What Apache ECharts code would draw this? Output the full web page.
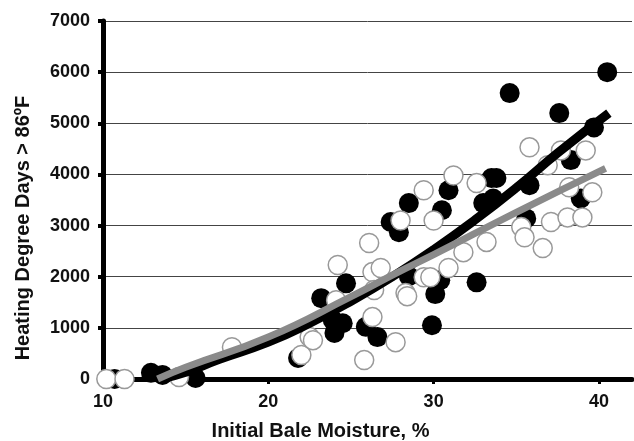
<!DOCTYPE html>
<html>
<head>
<meta charset="utf-8">
<script src="https://cdn.jsdelivr.net/npm/echarts@6/dist/echarts.min.js"></script>
<style>
  html, body { margin: 0; padding: 0; background: #fff; }
  #chart { width: 634px; height: 441px; }
</style>
</head>
<body>
<div id="chart"></div>
<script>
// measured points, [moisture %, heating degree days]
var filledPoints = [
  [10.7, 0], [12.9, 120], [13.6, 80], [15.6, 20], [21.8, 410],
  [23.2, 1580], [24.7, 1870], [23.9, 1150], [24.0, 900], [24.5, 1090],
  [25.9, 1020], [26.6, 820], [27.4, 3070], [27.9, 2870], [28.5, 3440],
  [28.5, 2010], [30.1, 1660], [29.9, 1050], [30.4, 1930], [30.5, 3300],
  [30.9, 3690], [32.6, 1890], [33.5, 3930], [33.8, 3930], [33.0, 3440],
  [33.6, 3530], [34.6, 5590], [35.8, 3790], [35.6, 3140], [37.6, 5200],
  [38.3, 4280], [38.9, 3530], [39.7, 4920], [40.5, 6000]
]
var openPoints = [
  [10.2, 0], [11.3, 0], [14.6, 40], [17.8, 620], [22.0, 470],
  [22.5, 820], [22.7, 760], [24.2, 2230], [24.1, 1540], [25.8, 370],
  [26.3, 1210], [27.7, 720], [26.1, 2660], [26.3, 2090], [26.8, 2170],
  [26.4, 1740], [28.0, 3100], [29.4, 3690], [28.3, 1680], [28.4, 1620],
  [29.4, 1990], [29.8, 1990], [30.0, 3100], [30.9, 2170], [31.2, 3980],
  [31.8, 2480], [32.6, 3830], [33.2, 2680], [35.3, 2970], [35.5, 2770],
  [35.8, 4530], [36.6, 2560], [36.9, 4180], [37.1, 3070], [37.7, 4470],
  [38.1, 3160], [38.2, 3750], [39.0, 3160], [39.2, 4470], [39.6, 3650]
]
// trend curves
var filledTrend = [
  [13.5, 0], [15, 130], [17, 380], [20, 720], [22.5, 1090], [25, 1520],
  [27.5, 2000], [30, 2530], [32.5, 3110], [35, 3740], [37.5, 4420], [40.6, 5200]
]
var openTrend = [
  [13.3, 0], [15, 230], [20, 820], [25, 1610], [27.8, 2080],
  [30, 2430], [35, 3260], [40.4, 4120]
]
var xTicks = [10, 20, 30, 40]
var yTicks = [0, 1000, 2000, 3000, 4000, 5000, 6000, 7000]

var chart = echarts.init(document.getElementById('chart'))
var font = 'Liberation Sans, Arial, sans-serif'

var option = {
  animation: false,
  grid: { left: 103, right: 2, top: 21, bottom: 62, outerBoundsMode: 'none' },
  xAxis: {
    type: 'value',
    min: 10,
    max: 42,
    interval: 10,
    name: 'Initial Bale Moisture, %',
    nameLocation: 'middle',
    nameGap: 42,
    nameTextStyle: {
      fontFamily: font, fontWeight: 'bold', fontSize: 20, color: '#111',
      padding: [0, 94, 0, 0]
    },
    axisLine: { lineStyle: { color: '#000', width: 5 } },
    axisTick: { show: true, length: 5, lineStyle: { color: '#000', width: 3 }, customValues: [20, 30, 40] },
    axisLabel: {
      customValues: xTicks,
      margin: 14,
      fontFamily: font, fontWeight: 'bold', fontSize: 18, color: '#111'
    },
    splitLine: { show: false }
  },
  yAxis: {
    type: 'value',
    min: 0,
    max: 7000,
    interval: 1000,
    name: 'Heating Degree Days > 86ºF',
    nameLocation: 'middle',
    nameGap: 70,
    nameTextStyle: {
      fontFamily: font, fontWeight: 'bold', fontSize: 20, color: '#111',
      padding: [0, 56, 0, 0]
    },
    axisLine: { show: true, lineStyle: { color: '#000', width: 5 } },
    axisTick: { show: true, length: 5, lineStyle: { color: '#000', width: 4 } },
    axisLabel: {
      customValues: yTicks,
      margin: 13,
      formatter: function (v) { return String(v) },
      fontFamily: font, fontWeight: 'bold', fontSize: 18, color: '#111'
    },
    splitLine: { show: true, lineStyle: { color: '#444', width: 1 } }
  },
  series: [
    {
      type: 'scatter',
      data: filledPoints,
      symbolSize: 20,
      itemStyle: { color: '#000', opacity: 1 },
      z: 2
    },
    {
      type: 'scatter',
      data: openPoints,
      symbolSize: 19,
      itemStyle: { color: '#fff', borderColor: '#999', borderWidth: 1.5, opacity: 1 },
      z: 3
    },
    {
      type: 'line',
      data: filledTrend,
      smooth: true,
      showSymbol: false,
      lineStyle: { color: '#000', width: 9 },
      z: 4
    },
    {
      type: 'line',
      data: openTrend,
      smooth: true,
      showSymbol: false,
      lineStyle: { color: '#8a8a8a', width: 7 },
      z: 5
    }
  ]
}
chart.setOption(option)
</script>
</body>
</html>
